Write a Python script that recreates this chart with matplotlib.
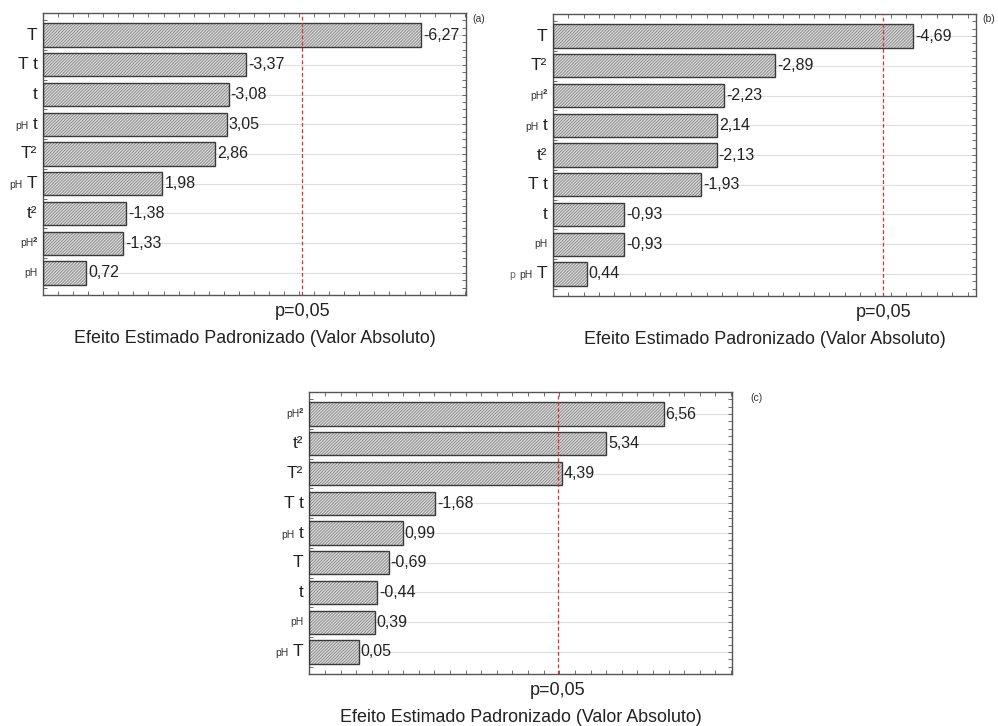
import matplotlib
matplotlib.use("Agg")
import matplotlib.pyplot as plt
import numpy as np
from matplotlib.offsetbox import TextArea, HPacker, AnnotationBbox
from matplotlib.ticker import MultipleLocator
import matplotlib.transforms as mtransforms

plt.rcParams['font.family'] = ['Liberation Sans', 'DejaVu Sans']
plt.rcParams['hatch.linewidth'] = 0.55

# ---------------- data ----------------
cats_a = ["T", "T t", "t", "pH t", "T²", "pH T", "t²", "pH²", "pH"]
vals_a = [-6.27, -3.37, -3.08, 3.05, 2.86, 1.98, -1.38, -1.33, 0.72]

cats_b = ["T", "T²", "pH²", "pH t", "t²", "T t", "t", "pH", "p pH T"]
vals_b = [-4.69, -2.89, -2.23, 2.14, -2.13, -1.93, -0.93, -0.93, 0.44]

cats_c = ["pH²", "t²", "T²", "T t", "pH t", "T", "t", "pH", "pH T"]
vals_c = [6.56, 5.34, 4.39, -1.68, 0.99, -0.69, -0.44, 0.39, 0.05]

p_crit = 4.303
p_label = "p=0,05"
x_label = "Efeito Estimado Padronizado (Valor Absoluto)"
panel_labels = ["(a)", "(b)", "(c)"]

# ---------------- figure ----------------
W, H = 998, 726
fig = plt.figure(figsize=(W / 100, H / 100), dpi=100)
fig.patch.set_facecolor("white")


def px_axes(l, t, r, b):
    return fig.add_axes([l / W, 1 - b / H, (r - l) / W, (b - t) / H])


SMALL = {"p", "pH", "pH²"}
BIG_SIZE = 12.5
SMALL_SIZE = 7.5


def make_label(ax, y, cat):
    tokens = cat.split(" ")
    parts = []
    big_run = []
    for tok in tokens:
        if tok in SMALL:
            if big_run:
                parts.append((" ".join(big_run), False))
                big_run = []
            parts.append((tok, True))
        else:
            big_run.append(tok)
    if big_run:
        parts.append((" ".join(big_run), False))
    children = []
    for txt, small in parts:
        if small:
            if txt.endswith("²"):
                inner = [TextArea(txt[:-1], textprops=dict(fontsize=SMALL_SIZE, color="#333333")),
                         TextArea("²", textprops=dict(fontsize=9.5, fontweight="bold", color="#333333"))]
                children.append(HPacker(children=inner, align="baseline", pad=0, sep=0))
                continue
            props = dict(fontsize=SMALL_SIZE, color="#333333")
            if txt == "p":
                props = dict(fontsize=7.5, color="#666666")
        else:
            props = dict(fontsize=BIG_SIZE, color="#222222")
        children.append(TextArea(txt, textprops=props))
    box = HPacker(children=children, align="baseline", pad=0, sep=3)
    ab = AnnotationBbox(box, (0, y), xycoords=ax.get_yaxis_transform(),
                        xybox=(-4, 0), boxcoords="offset points",
                        box_alignment=(1, 0.5), frameon=False,
                        annotation_clip=False, pad=0)
    ax.add_artist(ab)


def panel(rect, cats, vals, xlim, xstep, plabel, plabel_xy):
    ax = px_axes(*rect)
    n = len(cats)
    y = np.arange(n)[::-1]
    absv = np.abs(np.array(vals))
    x0 = xlim[0]
    ax.set_xlim(*xlim)
    ax.set_ylim(-0.74, n - 1 + 0.74)
    # grid lines
    for yy in y:
        ax.axhline(yy, color="#dedede", lw=0.8, zorder=0)
    ax.barh(y, absv - x0, left=x0, height=0.78, color="#dadada",
            edgecolor="#7c7c7c", hatch="///////////", lw=0, zorder=2)
    ax.barh(y, absv - x0, left=x0, height=0.78, fill=False,
            edgecolor="#3a3a3a", lw=1.0, zorder=3)
    ax.axvline(p_crit, color="#e0302a", lw=0.9, ls=(0, (3, 2)), zorder=4)
    for yy, a, v in zip(y, absv, vals):
        ax.annotate(f"{v:.2f}".replace(".", ","), (a, yy),
                    xytext=(1.5, 0), textcoords="offset points",
                    va="center", ha="left", fontsize=11.5, color="#222222",
                    zorder=5)
    for yy, c in zip(y, cats):
        make_label(ax, yy, c)
    ax.set_yticks([])
    ax.set_xticks([])
    ax.xaxis.set_major_locator(MultipleLocator(xstep))
    ax.yaxis.set_major_locator(MultipleLocator(0.25))
    ax.tick_params(axis="both", which="both", direction="in", length=3,
                   width=0.6, color="#555555", top=True, bottom=True,
                   left=True, right=True, labelbottom=False, labelleft=False)
    for s in ax.spines.values():
        s.set_color("#555555")
        s.set_linewidth(1.0)
    trans = mtransforms.blended_transform_factory(ax.transData, ax.transAxes)
    ax.annotate(p_label, (p_crit, 0), xycoords=trans, xytext=(0, -12),
                textcoords="offset points", ha="center", va="center",
                fontsize=13, color="#222222")
    ax.annotate(x_label, (0.5, 0), xycoords="axes fraction", xytext=(0, -31),
                textcoords="offset points", ha="center", va="center",
                fontsize=12.9, color="#222222")
    fig.text(plabel_xy[0] / W, 1 - plabel_xy[1] / H, plabel, fontsize=7.5,
             ha="left", va="center", color="#333333")
    return ax


panel((43, 13, 466, 295), cats_a, vals_a, (0, 7.02), 0.25, panel_labels[0], (472, 19))
panel((553, 14, 976, 296), cats_b, vals_b, (0, 5.51), 0.2, panel_labels[1], (982, 19))
panel((309, 392, 732, 674), cats_c, vals_c, (-1.01, 8.02), 1 / 3, panel_labels[2], (750, 398))

fig.savefig("out.png", dpi=100, facecolor="white")
